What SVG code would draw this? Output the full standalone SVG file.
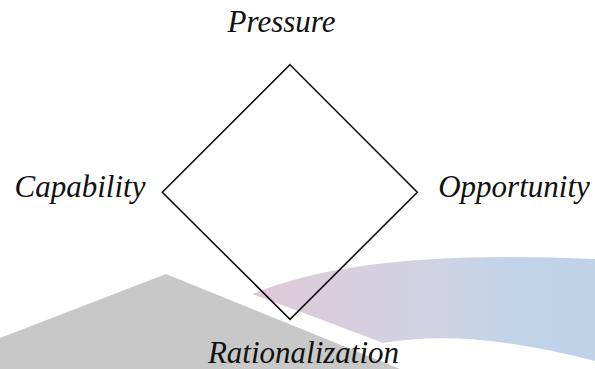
<svg xmlns="http://www.w3.org/2000/svg" width="595" height="369" viewBox="0 0 595 369">
<style>
.lbl{font-family:"Liberation Serif","Times New Roman",serif;font-style:italic;font-size:31px;fill:#111;text-anchor:middle}
.edge{fill:none;stroke:#111;stroke-width:1.6;stroke-linejoin:miter}
</style>
<defs>
<linearGradient id="band" gradientUnits="userSpaceOnUse" x1="252" y1="0" x2="595" y2="0">
<stop offset="0" stop-color="#dfc9d7"/>
<stop offset="0.55" stop-color="#d0d3e4"/>
<stop offset="0.75" stop-color="#c1d3e8"/>
<stop offset="1" stop-color="#bfd2e8"/>
</linearGradient>
</defs>
<rect width="595" height="369" fill="#fff"/>
<g id="background">
<polygon points="0,338 166,274 400,369 0,369" fill="#c8c8c8"/>
<path d="M252,294 C330,262 440,252 595,259 L595,361 Q470,328 383,343 Q318,318 252,294 Z" fill="url(#band)"/>
</g>
<g id="connectors">
<polygon class="edge" points="290,64.7 417.3,192.3 290,319.3 162.3,192.3"/>
</g>
<g id="node-pressure"><text class="lbl" x="281.5" y="32">Pressure</text></g>
<g id="node-capability"><text class="lbl" x="80" y="197">Capability</text></g>
<g id="node-opportunity"><text class="lbl" x="514" y="197">Opportunity</text></g>
<g id="node-rationalization"><text class="lbl" x="303.5" y="363">Rationalization</text></g>
</svg>
